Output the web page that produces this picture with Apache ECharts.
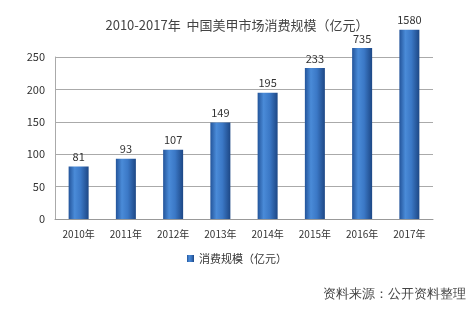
<!DOCTYPE html>
<html>
<head>
<meta charset="utf-8">
<script src="https://cdn.jsdelivr.net/npm/echarts@6/dist/echarts.min.js"></script>
<style>html,body{margin:0;padding:0;background:#fff;}#c{width:474px;height:312px;}</style>
</head>
<body>
<div id="c"></div>
<script>
var categories = ['2010年','2011年','2012年','2013年','2014年','2015年','2016年','2017年'];
// drawn bar heights (the last two bars are not to scale in the original)
var barHeights = [81, 93, 107, 149, 195, 233, 264, 292];
// printed value labels
var valueLabels = ['81','93','107','149','195','233','735','1580'];
var yTicks = [0, 50, 100, 150, 200, 250];
var titleText = '2010-2017年  中国美甲市场消费规模（亿元）';
var seriesName = '消费规模（亿元）';
var sourceText = '资料来源：公开资料整理';

var chart = echarts.init(document.getElementById('c'), null, {renderer: 'canvas'});
var font = '"Noto Sans CJK SC", "Noto Sans", sans-serif';
chart.setOption({
  backgroundColor: '#fff',
  animation: false,
  title: {
    text: titleText, left: 'center', top: 14,
    textStyle: {fontSize: 13, fontWeight: 'normal', color: '#444', fontFamily: font}
  },
  legend: {
    data: [seriesName], top: 248, left: 'center',
    itemWidth: 7, itemHeight: 7, itemGap: 4,
    icon: 'rect',
    textStyle: {fontSize: 11, color: '#333', fontFamily: font}
  },
  grid: {left: 55, right: 41, top: 57, bottom: 93},
  xAxis: {
    type: 'category', data: categories,
    axisLine: {lineStyle: {color: '#999'}},
    axisTick: {show: false},
    axisLabel: {interval: 0, fontSize: 10, color: '#333', margin: 10, fontFamily: font}
  },
  yAxis: {
    type: 'value', min: yTicks[0], max: yTicks[yTicks.length - 1], interval: 50,
    axisLine: {show: true, lineStyle: {color: '#aaa'}},
    axisTick: {show: false},
    splitLine: {lineStyle: {color: '#aaa'}},
    axisLabel: {fontSize: 11, color: '#333', margin: 10, fontFamily: font}
  },
  series: [{
    name: seriesName, type: 'bar', data: barHeights, barWidth: 20, clip: false,
    itemStyle: {
      color: new echarts.graphic.LinearGradient(0, 0, 1, 0, [
        {offset: 0, color: '#23549a'},
        {offset: 0.3, color: '#4a8bd8'},
        {offset: 0.6, color: '#3b78c6'},
        {offset: 1, color: '#1d4785'}
      ])
    },
    label: {
      show: true, position: 'top', distance: 4, fontSize: 11, color: '#333', fontFamily: font,
      formatter: function (p) { return valueLabels[p.dataIndex]; }
    }
  }],
  graphic: [{
    type: 'text', right: 8, top: 288,
    style: {text: sourceText, fontSize: 13, fill: '#444', font: '13px ' + font}
  }]
});
</script>
</body>
</html>
